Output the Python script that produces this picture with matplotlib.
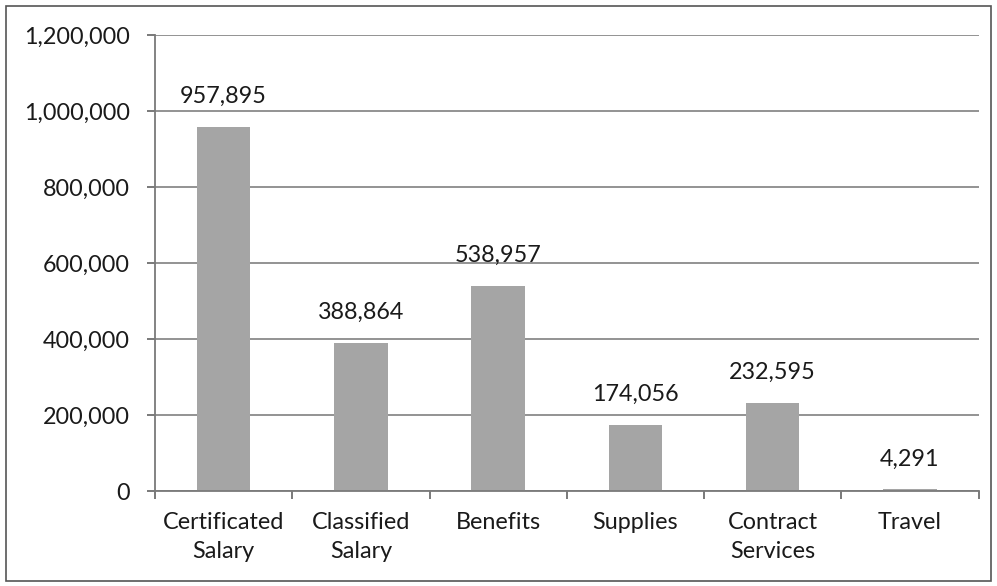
import matplotlib
matplotlib.use('Agg')
import matplotlib.pyplot as plt
from matplotlib.patches import Rectangle
from matplotlib.ticker import FuncFormatter, FixedLocator

categories = ['Certificated\nSalary', 'Classified\nSalary', 'Benefits', 'Supplies',
              'Contract\nServices', 'Travel']
amounts = [957895, 388864, 538957, 174056, 232595, 4291]
y_ticks = [0, 200000, 400000, 600000, 800000, 1000000, 1200000]

plt.rcParams['font.family'] = ['Lato', 'DejaVu Sans']
FS = 16.8

fig = plt.figure(figsize=(9.97, 5.86), dpi=100)
ax = fig.add_axes([0.1555, 0.162, 0.826, 0.778])

x = list(range(len(categories)))
bars = ax.bar(x, amounts, width=0.39, color='#a5a5a5', zorder=3)

for xi, v in zip(x, amounts):
    ax.annotate(f'{v:,}', (xi, v), xytext=(0, 22), textcoords='offset points',
                ha='center', va='center', fontsize=FS, color='#1a1a1a')

ax.set_xlim(-0.5, len(categories) - 0.5)
ax.set_ylim(0, 1200000)
ax.set_yticks(y_ticks)
ax.yaxis.set_major_formatter(FuncFormatter(lambda v, p: f'{int(v):,}'))
ax.grid(axis='y', color='#8a8a8a', linewidth=1.3, zorder=0)

ax.set_xticks(x)
ax.set_xticklabels(categories, linespacing=1.45)
ax.xaxis.set_minor_locator(FixedLocator([i - 0.5 for i in range(len(categories) + 1)]))
ax.tick_params(axis='x', which='major', length=0, pad=15, labelsize=FS, labelcolor='#1a1a1a')
ax.tick_params(axis='x', which='minor', length=6, width=1.3, color='#6e6e6e', direction='out')
ax.tick_params(axis='y', length=6, width=1.3, color='#6e6e6e', labelsize=FS,
               labelcolor='#1a1a1a', pad=12)

for s in ['top', 'right']:
    ax.spines[s].set_visible(False)
for s in ['left', 'bottom']:
    ax.spines[s].set_color('#7a7a7a')
    ax.spines[s].set_linewidth(1.3)
ax.spines['bottom'].set_zorder(4)

fig.patches.append(Rectangle((0.006, 0.008), 0.988, 0.982, transform=fig.transFigure,
                             fill=False, edgecolor='#555555', linewidth=1.2))

fig.savefig('out.png', dpi=100)
